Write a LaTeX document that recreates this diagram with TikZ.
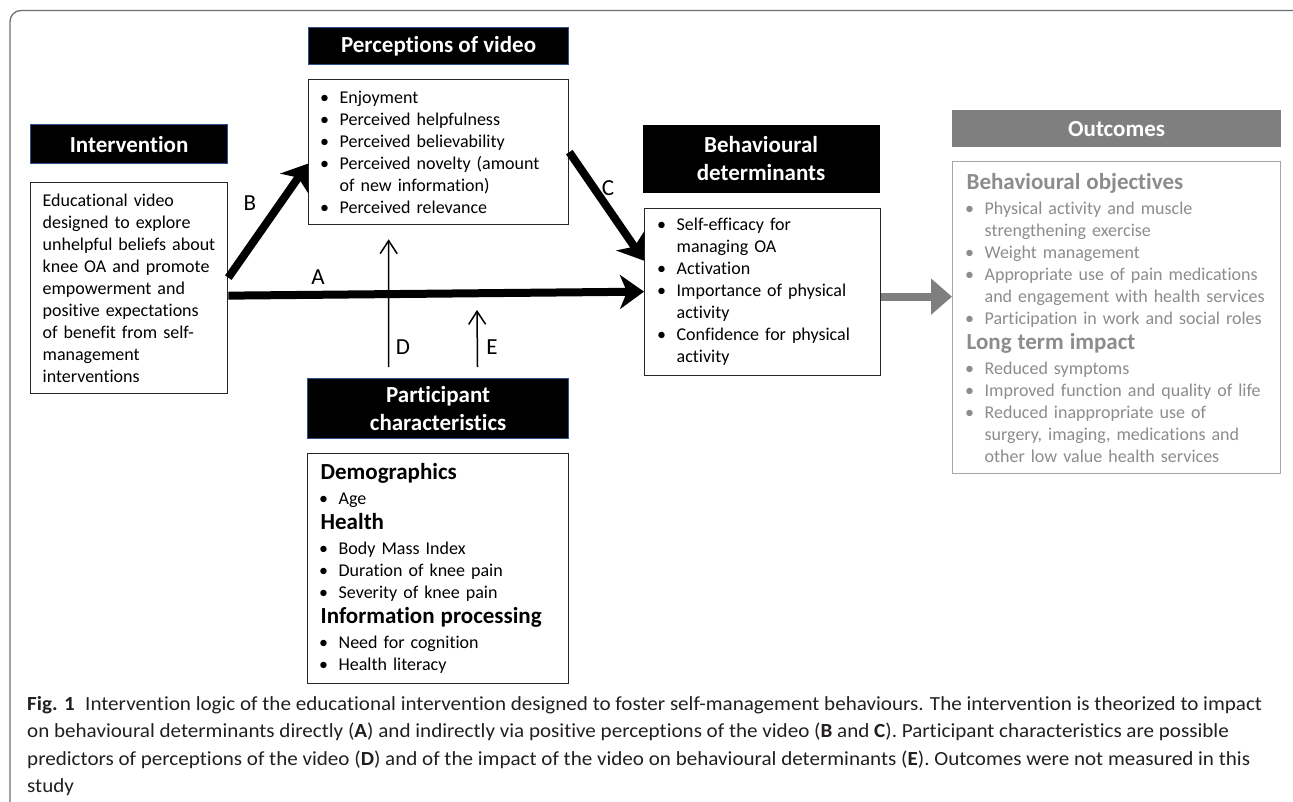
\documentclass[tikz,border=0pt]{standalone}
\usepackage{fontspec}
\setmainfont{Carlito}[Ligatures={TeX,NoCommon}]
\usepackage{graphicx}
\usetikzlibrary{arrows.meta,calc}
\definecolor{hdblue}{HTML}{2F528F}
\definecolor{outgray}{HTML}{7F7F7F}
\definecolor{outtext}{HTML}{8C8C8C}
\definecolor{outline}{HTML}{A6A6A6}
\definecolor{captext}{HTML}{231F20}
\definecolor{framegray}{HTML}{6D6E71}
\newcommand{\bul}[1]{\hangindent=18pt\hangafter=1\noindent\makebox[18pt][l]{\hspace{-1.5pt}\textbullet}#1\par}
\newcommand{\hd}[1]{{\fontsize{23}{25}\selectfont\bfseries #1\par}\vspace{3pt}}
\begin{document}
\begin{tikzpicture}[x=1pt,y=-1pt,
  hdr/.style={fill=black, draw=hdblue, line width=1.2pt, text=white,
    font=\fontsize{23}{27.5}\selectfont\bfseries, align=center, inner sep=0pt, anchor=north west},
  box/.style={draw=black!85, line width=1.3pt, fill=white, anchor=north west,
    inner ysep=0pt, align=left, font=\fontsize{18}{22}\selectfont},
  bigarrow/.style={line width=8pt, -{Stealth[length=24pt,width=34pt,inset=7pt]}},
  thinarrow/.style={line width=1.5pt, -{Straight Barb[length=13pt,width=17pt]}},
  lbl/.style={font=\fontsize{23}{23}\selectfont, inner sep=0pt}
]
\clip (0,0) rectangle (1293,801);
\useasboundingbox (0,0) rectangle (1293,801);
\draw[framegray, line width=1.3pt, rounded corners=11pt] (10,10.5) rectangle (1310,830);

% headers
\node[hdr, minimum width=260pt, minimum height=37pt] (perch) at (308,27) {Perceptions of video};
\node[hdr, minimum width=197pt, minimum height=39pt] (inth) at (30,124) {Intervention};
\node[hdr, draw=none, minimum width=237pt, minimum height=68pt] (behh) at (642,124) {Behavioural\\determinants};
\node[hdr, fill=outgray, draw=outgray, minimum width=328pt, minimum height=36pt] (outh) at (952,110) {Outcomes};
\node[hdr, minimum width=261pt, minimum height=60pt] (parth) at (307,378) {Participant\\characteristics};

% content boxes
\node[box, minimum width=260pt, minimum height=145pt, text width=234pt, inner xsep=13pt] (percb) at (308,79) {%
\bul{Enjoyment}\bul{Perceived helpfulness}\bul{Perceived believability}%
\bul{Perceived novelty (amount\newline of new information)}\bul{Perceived relevance}};

\node[box, minimum width=197pt, minimum height=211pt, text width=173pt, inner xsep=12pt] (intb) at (30,182) {%
Educational video\\designed to explore\\unhelpful beliefs about\\knee OA and promote\\empowerment and\\positive expectations\\of benefit from self-\\management\\interventions};

\node[box, minimum width=236pt, minimum height=167pt, text width=208pt, inner xsep=14pt] (behb) at (644,208) {%
\bul{Self-efficacy for\newline managing OA}\bul{Activation}\bul{Importance of physical\newline activity}%
\bul{Confidence for physical\newline activity}};

\node[box, draw=outline, text=outtext, minimum width=328pt, minimum height=312pt, text width=300pt, inner xsep=14pt] (outb) at (952,161) {%
\hd{Behavioural objectives}%
\bul{Physical activity and muscle\newline strengthening exercise}%
\bul{Weight management}%
\bul{Appropriate use of pain medications\newline and engagement with health services}%
\bul{Participation in work and social roles}%
\hd{Long term impact}%
\bul{Reduced symptoms}%
\bul{Improved function and quality of life}%
\bul{Reduced inappropriate use of\newline surgery, imaging, medications and\newline other low value health services}};

\node[box, minimum width=261pt, minimum height=230pt, text width=235pt, inner xsep=13pt] (partb) at (307,453) {%
\hd{Demographics}%
\bul{Age}%
\hd{Health}%
\bul{Body Mass Index}\bul{Duration of knee pain}\bul{Severity of knee pain}%
\hd{Information processing}%
\bul{Need for cognition}\bul{Health literacy}};

% arrows
\draw[bigarrow] ([yshift=-7.5pt]intb.east) -- ([yshift=0.5pt]behb.west);
\draw[bigarrow] ([yshift=10.5pt]intb.east) -- ([yshift=-11.5pt]percb.west);
\draw[bigarrow] (percb.east) -- ([yshift=31.5pt]behb.west);
\draw[line width=8pt, outgray, -{Triangle[length=21pt,width=35pt]}] ([yshift=-4.5pt]behb.east) -- ([yshift=21pt]outb.west);
\coordinate (Etip) at (477,310);
\draw[thinarrow, shorten <=11pt, shorten >=14pt] ([xshift=-49.5pt]parth.north) -- ([xshift=-50pt]percb.south);
\draw[thinarrow, shorten <=11pt] ([xshift=39.5pt]parth.north) -- (Etip);

% labels
\node[lbl] (lA) at (318,277) {A};
\node[lbl] (lB) at (250,203) {B};
\node[lbl] (lC) at (608,188) {C};
\node[lbl] (lD) at (403,347) {D};
\node[lbl] (lE) at (492,347) {E};

% caption
\node[anchor=north west, inner sep=0pt, text=captext] (cap) at (27,691) {\resizebox{1235pt}{\height}{\fontsize{20}{27.5}\selectfont\begin{tabular}{@{}l@{}}
\textbf{Fig. 1}\enspace Intervention logic of the educational intervention designed to foster self-management behaviours. The intervention is theorized to impact\\
on behavioural determinants directly (\textbf{A}) and indirectly via positive perceptions of the video (\textbf{B} and \textbf{C}). Participant characteristics are possible\\
predictors of perceptions of the video (\textbf{D}) and of the impact of the video on behavioural determinants (\textbf{E}). Outcomes were not measured in this\\
study
\end{tabular}}};
\end{tikzpicture}
\end{document}
